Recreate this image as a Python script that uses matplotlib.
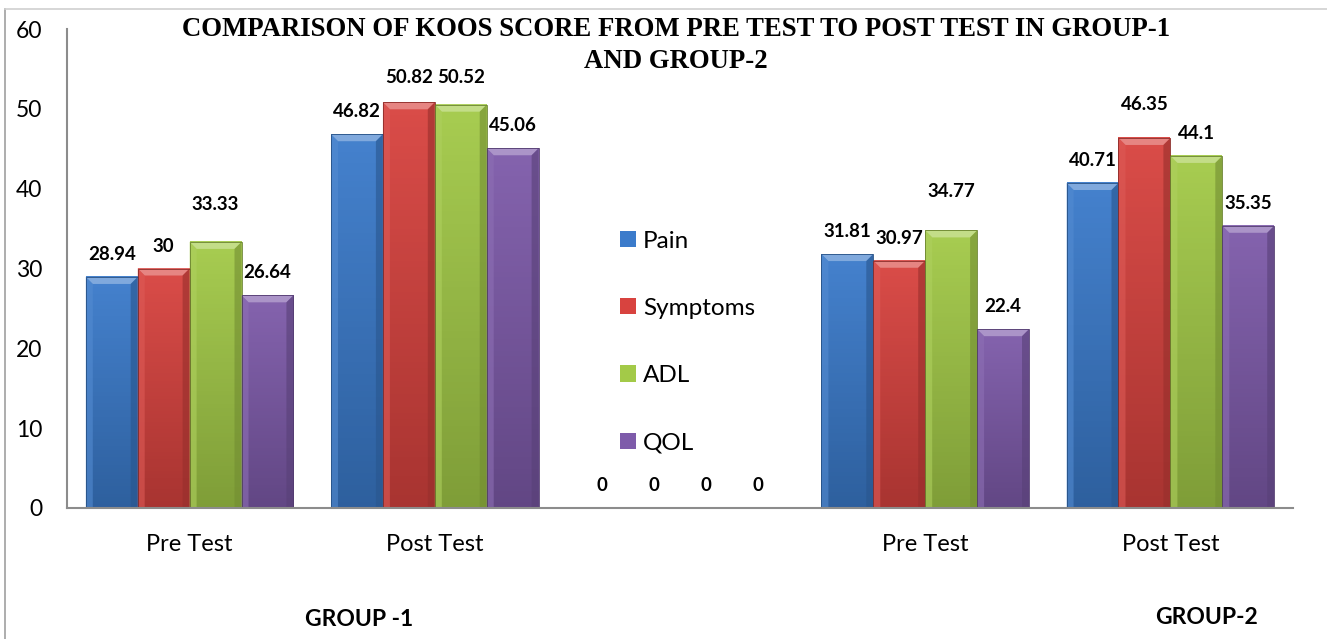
import numpy as np
import matplotlib
matplotlib.use("Agg")
import matplotlib.pyplot as plt
from matplotlib.patches import Polygon, Rectangle
from matplotlib.colors import to_rgb

categories = ["Pre Test", "Post Test", "", "Pre Test", "Post Test"]
series_names = ["Pain", "Symptoms", "ADL", "QOL"]
pain = [28.94, 46.82, 0, 31.81, 40.71]
symptoms = [30, 50.82, 0, 30.97, 46.35]
adl = [33.33, 50.52, 0, 34.77, 44.1]
qol = [26.64, 45.06, 0, 22.4, 35.35]
series_values = [pain, symptoms, adl, qol]
colors = ["#3B7BCB", "#D8433F", "#A3CA48", "#7E5BAA"]
yticks = [0, 10, 20, 30, 40, 50, 60]
group_labels = ["GROUP -1", "GROUP-2"]
title_lines = ["COMPARISON OF KOOS SCORE FROM PRE TEST TO POST TEST IN GROUP-1", "AND GROUP-2"]

# extra label lift (pixels) for labels placed higher in the original layout
label_lift = [
    [0, 0, 0, 0, 0],
    [0, 2, 0, 0, 11],
    [15, 5, 0, 16, 0],
    [0, 0, 0, 0, 0],
]

plt.rcParams['font.family'] = ['Lato', 'DejaVu Sans']

W, H = 1327, 639
fig = plt.figure(figsize=(W / 100, H / 100), dpi=100)
ax = fig.add_axes([67 / W, 1 - 508 / H, (1293 - 67) / W, (508 - 29) / H])
ax.set_xlim(-0.5, len(categories) - 0.5)
ax.set_ylim(0, 60)

x = np.arange(len(categories))
bw = 0.2117


def mix(c, t, amt):
    c = np.array(to_rgb(c))
    t = np.array(to_rgb(t))
    return tuple(c + (t - c) * amt)


px_x = (len(categories)) / (1293 - 67)
px_y = 60 / (508 - 29)
bev_px = 7
PT = 72 / 100  # points per pixel

for i, (vals, col, name) in enumerate(zip(series_values, colors, series_names)):
    bars = ax.bar(x + (i - 1.5) * bw, vals, width=bw, color=col, label=name,
                  edgecolor='none', zorder=2)
    for b, v in zip(bars, vals):
        if v <= 0:
            continue
        x0, w, h = b.get_x(), b.get_width(), b.get_height()
        grad = np.linspace(0, 1, 64).reshape(-1, 1)
        top_c = np.array(mix(col, 'white', 0.05))
        bot_c = np.array(mix(col, 'black', 0.22))
        img = top_c[None, None, :] * (1 - grad[:, :, None]) + bot_c[None, None, :] * grad[:, :, None]
        img = img[::-1]
        ax.imshow(img, extent=(x0, x0 + w, 0, h), aspect='auto', origin='lower', zorder=2.1)
        bx = bev_px * px_x
        by = bev_px * px_y
        ax.add_patch(Polygon([(x0, h), (x0 + w, h), (x0 + w - bx, h - by), (x0 + bx, h - by)],
                             closed=True, facecolor=mix(col, 'white', 0.35), edgecolor='none', zorder=2.2))
        ax.add_patch(Polygon([(x0, h), (x0 + bx, h - by), (x0 + bx, 0), (x0, 0)],
                             closed=True, facecolor=mix(col, 'white', 0.12), edgecolor='none', alpha=0.6, zorder=2.2))
        ax.add_patch(Polygon([(x0 + w, h), (x0 + w - bx, h - by), (x0 + w - bx, 0), (x0 + w, 0)],
                             closed=True, facecolor=mix(col, 'black', 0.3), edgecolor='none', alpha=0.6, zorder=2.2))
        ax.add_patch(Rectangle((x0, 0), w, h, facecolor='none', edgecolor=mix(col, 'black', 0.35),
                               linewidth=0.6, zorder=2.3))
    for j, (b, v) in enumerate(zip(bars, vals)):
        lbl = f"{v:g}"
        ax.annotate(lbl, (b.get_x() + b.get_width() / 2, b.get_height()),
                    xytext=(0, (14 + label_lift[i][j]) * PT), textcoords='offset points',
                    ha='center', va='bottom', fontsize=13.5, fontweight='bold', zorder=4)

ax.set_xticks(x)
ax.set_xticklabels(categories, fontsize=17)
ax.set_yticks(yticks)
ax.set_yticklabels([str(t) for t in yticks], fontsize=16.5)
ax.tick_params(axis='both', length=0)
ax.tick_params(axis='x', pad=19)
ax.tick_params(axis='y', pad=18)
for s in ['top', 'right']:
    ax.spines[s].set_visible(False)
ax.spines['left'].set_color('#8c8c8c')
ax.spines['bottom'].set_color('#8c8c8c')
ax.spines['left'].set_linewidth(1.5)
ax.spines['bottom'].set_linewidth(1.5)

for k, (line, ypx) in enumerate(zip(title_lines, [29, 61])):
    fig.text(676 / W, 1 - ypx / H, line, ha='center', va='center', fontsize=19.3,
             fontweight='bold', family=['Liberation Serif'])

leg = ax.legend(loc='center left', bbox_to_anchor=((598 - 67) / (1293 - 67), (508 - 342) / (508 - 29)),
                frameon=False, fontsize=17.5, labelspacing=1.9, handlelength=0.65, handleheight=0.65,
                handletextpad=0.3)

fig.text(359 / W, 1 - 620 / H, group_labels[0], ha='center', va='center', fontsize=16.5, fontweight='bold')
fig.text(1207 / W, 1 - 618 / H, group_labels[1], ha='center', va='center', fontsize=16.5, fontweight='bold')

fig.add_artist(plt.Line2D([5 / W, 5 / W], [0, 1 - 9 / H], color='#a0a0a0', lw=1.2, transform=fig.transFigure))
fig.add_artist(plt.Line2D([5 / W, 1], [1 - 9 / H, 1 - 9 / H], color='#d0d0d0', lw=1.2, transform=fig.transFigure))

fig.savefig("out.png", dpi=100)
